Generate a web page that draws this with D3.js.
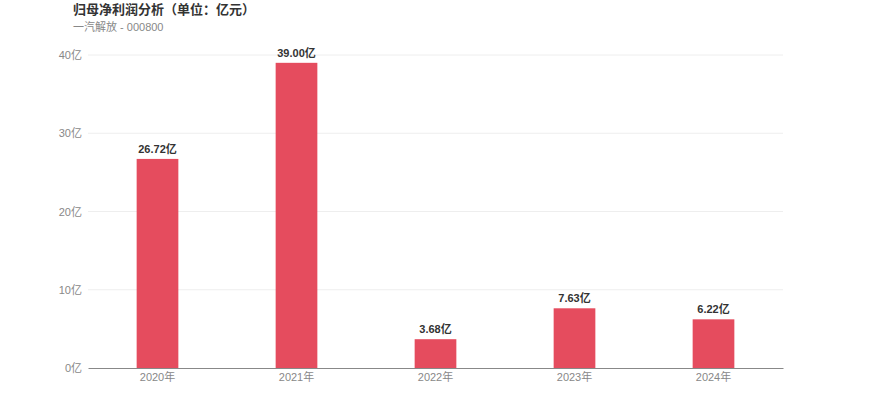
<!DOCTYPE html>
<html>
<head>
<meta charset="utf-8">
<script src="https://cdn.jsdelivr.net/npm/d3@7"></script>
<style>
  body { margin: 0; background: #fff; }
  svg { font-family: "Liberation Sans", "Noto Sans CJK SC", sans-serif; }
</style>
</head>
<body>
<svg id="chart"></svg>
<script>
// data
const years = ["2020年", "2021年", "2022年", "2023年", "2024年"];
const profits = [26.72, 39.00, 3.68, 7.63, 6.22];
const yTicks = [0, 10, 20, 30, 40];

const width = 870;
const height = 417;
const margin = { top: 55, right: 87, bottom: 49, left: 88 };
const innerW = width - margin.left - margin.right;
const innerH = height - margin.top - margin.bottom;
const font = '"Liberation Sans", "Noto Sans CJK SC", sans-serif';

const svg = d3.select('#chart')
    .attr('width', width)
    .attr('height', height);

// title
svg.append('text')
    .attr('x', 73).attr('y', 14)
    .attr('font-size', 13).attr('font-weight', 'bold').attr('fill', '#333')
    .text('归母净利润分析（单位：亿元）');
svg.append('text')
    .attr('x', 73).attr('y', 31)
    .attr('font-size', 11).attr('fill', '#888')
    .text('一汽解放 - 000800');

const g = svg.append('g')
    .attr('transform', 'translate(' + margin.left + ',' + margin.top + ')');

const x = d3.scaleBand()
    .domain(years)
    .range([0, innerW])
    .paddingInner(0.7)
    .paddingOuter(0.35);

const y = d3.scaleLinear()
    .domain([0, 40])
    .range([innerH, 0]);

// grid lines
g.selectAll('.grid')
    .data(yTicks.filter(d => d > 0))
    .enter().append('line')
    .attr('x1', 0).attr('x2', innerW)
    .attr('y1', d => y(d)).attr('y2', d => y(d))
    .attr('stroke', '#eeeeee');

// y axis labels
const yAxis = g.append('g')
    .call(d3.axisLeft(y).tickValues(yTicks).tickSize(0).tickPadding(6).tickFormat(d => d + '亿'));
yAxis.select('.domain').remove();
yAxis.selectAll('text').attr('fill', '#888').attr('font-size', 11).attr('font-family', font);

// bars
g.selectAll('.bar')
    .data(profits)
    .enter().append('rect')
    .attr('x', (d, i) => x(years[i]))
    .attr('y', d => y(d))
    .attr('width', x.bandwidth())
    .attr('height', d => innerH - y(d))
    .attr('fill', '#e54c5e');

// value labels
g.selectAll('.label')
    .data(profits)
    .enter().append('text')
    .attr('x', (d, i) => x(years[i]) + x.bandwidth() / 2)
    .attr('y', d => y(d) - 6)
    .attr('text-anchor', 'middle')
    .attr('font-size', 11).attr('font-weight', 'bold').attr('fill', '#333')
    .text(d => d.toFixed(2) + '亿');

// x axis
const xAxis = g.append('g')
    .attr('transform', 'translate(0,' + innerH + ')')
    .call(d3.axisBottom(x).tickSize(0).tickPadding(5));
xAxis.select('.domain').attr('stroke', '#888');
xAxis.selectAll('text').attr('fill', '#888').attr('font-size', 11).attr('font-family', font);
</script>
</body>
</html>
